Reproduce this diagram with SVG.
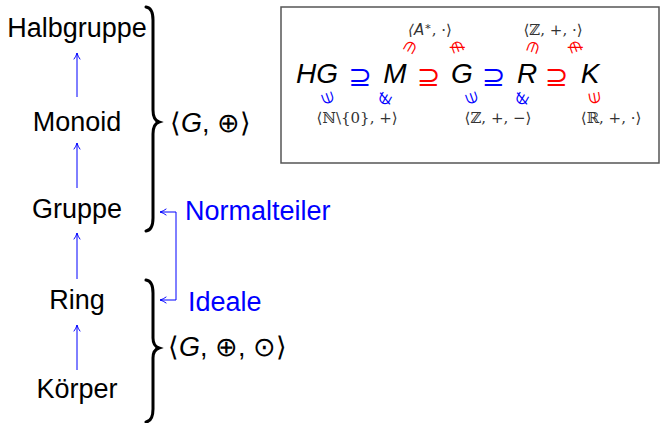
<svg xmlns="http://www.w3.org/2000/svg" width="663" height="423" viewBox="0 0 663 423">
<style>
.lbl{font-family:"Liberation Sans","DejaVu Sans",sans-serif;font-size:27px;fill:#000;text-anchor:middle}
.math{font-family:"Liberation Sans","DejaVu Sans",sans-serif;font-size:27px;fill:#000}
.it{font-style:italic}
.sym{font-family:"DejaVu Sans",sans-serif;font-weight:300}
.blue{fill:#0000ff}
.red{fill:#ff0000}
.big{font-family:"Liberation Sans","DejaVu Sans",sans-serif;font-size:28px;font-style:italic;fill:#000;text-anchor:middle}
.sup{font-family:"DejaVu Sans",sans-serif;font-size:28px;text-anchor:middle}
.small{font-family:"DejaVu Serif","DejaVu Sans",serif;font-size:15px;fill:#333;text-anchor:middle}
.rel{font-family:"DejaVu Sans",sans-serif;font-size:15px;text-anchor:middle;dominant-baseline:central}
.arr{stroke:#0000ff;stroke-width:1;fill:none}
.brace{stroke:#000;stroke-width:3;fill:none;stroke-linecap:round}
</style>
<defs>
<marker id="ah" viewBox="0 0 10 10" refX="9" refY="5" markerWidth="8" markerHeight="8" markerUnits="userSpaceOnUse" orient="auto">
<path d="M1,1 Q5,4 9,5 Q5,6 1,9" stroke="#0000ff" stroke-width="1.2" fill="none"/>
</marker>
</defs>

<g id="halbgruppe"><text class="lbl" x="77" y="37">Halbgruppe</text></g>
<g id="monoid"><text class="lbl" x="77" y="131">Monoid</text></g>
<g id="gruppe"><text class="lbl" x="77" y="218">Gruppe</text></g>
<g id="ring"><text class="lbl" x="77" y="309">Ring</text></g>
<g id="koerper"><text class="lbl" x="77" y="398">Körper</text></g>

<g id="brace1">
<path class="brace" d="M146,7 Q153,8 153,20 L153,110 Q153,120 159,122 Q153,124 153,134 L153,218 Q153,230 146,231"/>
<text class="math" x="170" y="132"><tspan class="sym">⟨</tspan><tspan class="it">G</tspan>, <tspan class="sym">⊕⟩</tspan></text>
</g>
<g id="brace2">
<path class="brace" d="M146,280 Q153,281 153,293 L153,338 Q153,346 159,348 Q153,350 153,358 L153,409 Q153,421 146,422"/>
<text class="math" x="168" y="356"><tspan class="sym">⟨</tspan><tspan class="it">G</tspan>, <tspan class="sym">⊕</tspan>, <tspan class="sym">⊙⟩</tspan></text>
</g>

<g id="normalteiler"><text class="math blue" x="185" y="220">Normalteiler</text></g>
<g id="ideale"><text class="math blue" x="188" y="311">Ideale</text></g>

<g id="connectors">
<line class="arr" x1="77" y1="97" x2="77" y2="53" marker-end="url(#ah)"/>
<line class="arr" x1="77" y1="188" x2="77" y2="143" marker-end="url(#ah)"/>
<line class="arr" x1="77" y1="279" x2="77" y2="233" marker-end="url(#ah)"/>
<line class="arr" x1="77" y1="370" x2="77" y2="325" marker-end="url(#ah)"/>
<path class="arr" d="M176,300 L176,212 L160,212" marker-end="url(#ah)"/>
<path class="arr" d="M176,300 L160,300" marker-end="url(#ah)"/>
</g>

<g id="box">
<rect x="281" y="7" width="378" height="156" fill="none" stroke="#555" stroke-width="1.5"/>
<text class="big" x="317" y="83">HG</text>
<text class="sup blue" x="360" y="86">⊇</text>
<text class="big" x="395" y="83">M</text>
<text class="sup red" x="428.5" y="86">⊇</text>
<text class="big" x="462" y="83">G</text>
<text class="sup blue" x="493.5" y="86">⊇</text>
<text class="big" x="527" y="83">R</text>
<text class="sup red" x="556.5" y="86">⊇</text>
<text class="big" x="590" y="83">K</text>

<text class="small" x="430" y="35"><tspan font-family="DejaVu Sans" font-style="italic">⟨A</tspan><tspan dy="-5" font-size="11">∗</tspan><tspan dy="5">, ·⟩</tspan></text>
<text class="small" x="553" y="35">⟨ℤ, +, ·⟩</text>
<text class="small" x="357" y="123">⟨ℕ\{0}, +⟩</text>
<text class="small" x="498" y="123">⟨ℤ, +, −⟩</text>
<text class="small" x="611" y="123">⟨ℝ, +, ·⟩</text>

<text class="rel red" transform="translate(410,47) rotate(120)">∈</text>
<text class="rel red" transform="translate(457,47) rotate(70)">∉</text>
<text class="rel red" transform="translate(533,47) rotate(110)">∈</text>
<text class="rel red" transform="translate(575,47) rotate(70)">∉</text>
<text class="rel blue" transform="translate(328,98) rotate(-110)">∈</text>
<text class="rel blue" transform="translate(385,99) rotate(-60)">∉</text>
<text class="rel blue" transform="translate(472,98) rotate(-110)">∈</text>
<text class="rel blue" transform="translate(522,99) rotate(-60)">∉</text>
<text class="rel red" transform="translate(595,98) rotate(-100)">∈</text>
</g>
</svg>
